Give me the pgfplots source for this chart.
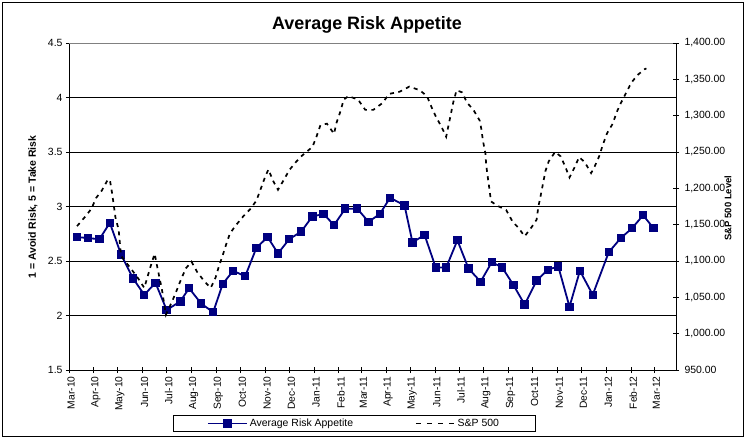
\documentclass[border=0pt]{standalone}
\usepackage{fontspec}
\setmainfont{Liberation Sans}
\usepackage{pgfplots}
\pgfplotsset{compat=1.18}
\definecolor{navyline}{RGB}{0,0,128}

\pgfplotsset{
  /pgf/number format/assume math mode=true,
  riskbase/.style={
    at={(69bp,70bp)}, anchor=south west,
    scale only axis, width=607bp, height=327bp,
    xmin=0, xmax=758,
    tick align=center, major tick length=6bp,
    tick style={black, line width=0.8bp},
    axis line style={black, line width=0.8bp},
    clip=false,
  },
}

\begin{document}
\begin{tikzpicture}
\path[use as bounding box, fill=white] (0,0) rectangle (746bp,440bp);
\draw[black, line width=0.8bp] (2.7bp,4bp) rectangle (743.3bp,437.3bp);

\node[anchor=base, font=\fontsize{18}{20}\selectfont\bfseries] at (367bp,410.7bp) {Average Risk Appetite};
\node[rotate=90, font=\fontsize{10.5}{12}\selectfont\bfseries] at (33bp,233bp) {1 = Avoid Risk, 5 = Take Risk};
\node[rotate=90, font=\fontsize{9.5}{11}\selectfont\bfseries] at (728bp,232bp) {S\&P 500 Level};

% left axis: survey values
\begin{axis}[riskbase,
  ymin=1.5, ymax=4.5,
  axis x line*=bottom, axis y line*=left,
  ytick={1.5,2,2.5,3,3.5,4,4.5},
  ymajorgrids, major grid style={black, line width=0.8bp},
  yticklabel style={font=\fontsize{10.5}{12}\selectfont},
  xtick={0,31,61,92,122,153,184,214,245,275,306,337,365,396,426,457,487,518,549,579,610,640,671,702,731},
  xticklabels={Mar-10,Apr-10,May-10,Jun-10,Jul-10,Aug-10,Sep-10,Oct-10,Nov-10,Dec-10,Jan-11,Feb-11,Mar-11,Apr-11,May-11,Jun-11,Jul-11,Aug-11,Sep-11,Oct-11,Nov-11,Dec-11,Jan-12,Feb-12,Mar-12},
  x tick label style={rotate=90, anchor=east, yshift=-2bp, font=\fontsize{10.3}{12}\selectfont},
  legend columns=2,
  legend cell align=left,
  legend image code/.code={\draw[mark repeat=2,mark phase=2,#1] plot coordinates {(0bp,0bp) (19.5bp,0bp) (39bp,0bp)};},
  legend style={at={(0.4695,-0.1636)}, anchor=center, draw=black, line width=0.8bp,
    font=\fontsize{10.5}{12}\selectfont, inner xsep=34bp, inner ysep=1.5bp,
    /tikz/every even column/.append style={column sep=60bp}},
]
\addplot[navyline, line width=1.8bp, mark=square*, mark size=3.3bp, mark options={solid}]
coordinates {
(10,2.72)(24,2.71)(38,2.70)(51,2.85)(65,2.56)(80,2.34)(94,2.19)(108,2.30)
(122,2.05)(139,2.13)(150,2.25)(165,2.11)(180,2.03)(192,2.29)(205,2.41)(220,2.36)
(234,2.62)(248,2.72)(261,2.57)(275,2.70)(290,2.77)(304,2.91)(318,2.93)(331,2.83)
(345,2.98)(360,2.98)(374,2.86)(388,2.93)(401,3.08)(419,3.01)(429,2.67)(444,2.74)
(458,2.44)(471,2.44)(485,2.69)(499,2.43)(514,2.31)(528,2.49)(541,2.44)(555,2.28)
(569,2.10)(584,2.32)(598,2.42)(611,2.45)(625,2.08)(638,2.41)(654,2.19)(674,2.58)
(689,2.71)(703,2.80)(717,2.92)(730,2.80)
};
\addlegendentry{Average Risk Appetite}
\addlegendimage{black, line width=1.6bp, dash pattern=on 5bp off 6bp}
\addlegendentry{S\&P 500}
\draw[gray, line width=0.8bp] (rel axis cs:0,1) -- (rel axis cs:1,1);
\end{axis}

% right axis: index level
\begin{axis}[riskbase,
  ymin=950, ymax=1400,
  axis x line=none, axis y line*=right,
  ytick={950,1000,1050,1100,1150,1200,1250,1300,1350,1400},
  scaled y ticks=false,
  yticklabel style={font=\fontsize{10.5}{12}\selectfont, xshift=2bp,
    /pgf/number format/fixed, /pgf/number format/fixed zerofill,
    /pgf/number format/precision=2, /pgf/number format/1000 sep={,}},
]
\addplot[black, line width=1.7bp, dash pattern=on 4bp off 4.5bp]
coordinates {
(10,1148)(21,1162)(28,1172)(34,1187)(41,1197)(48,1211)(51,1212)(54,1192)
(56,1176)(58,1160)(62,1143)(65,1107)(72,1097)(79,1087)(87,1075)(94,1063)
(98,1078)(102,1093)(107,1110)(110,1093)(116,1061)(121,1026)(129,1045)(135,1061)
(140,1075)(146,1090)(153,1099)(160,1085)(169,1072)(177,1063)(183,1077)(187,1092)
(192,1108)(196,1122)(201,1138)(209,1150)(218,1162)(226,1171)(234,1183)(239,1198)
(244,1213)(249,1226)(255,1210)(261,1198)(269,1213)(275,1225)(284,1237)(291,1245)
(304,1257)(309,1271)(314,1287)(322,1289)(331,1275)(334,1290)(339,1306)(343,1322)
(349,1327)(361,1322)(370,1308)(380,1308)(391,1317)(400,1330)(413,1333)(425,1340)
(438,1335)(447,1327)(453,1311)(458,1299)(465,1285)(471,1271)(474,1287)(477,1303)
(480,1319)(484,1335)(491,1332)(497,1318)(505,1308)(513,1293)(515,1281)(517,1265)
(520,1248)(521,1232)(523,1215)(525,1199)(527,1182)(535,1176)(546,1170)(554,1154)
(561,1146)(569,1134)(578,1147)(584,1157)(586,1174)(589,1190)(592,1207)(595,1224)
(599,1237)(607,1250)(614,1244)(620,1229)(625,1215)(631,1228)(637,1243)(644,1236)
(652,1221)(656,1229)(662,1244)(667,1261)(672,1276)(679,1289)(684,1305)(689,1317)
(696,1332)(702,1345)(710,1356)(719,1364)(721,1365)
};
\end{axis}
\end{tikzpicture}
\end{document}
